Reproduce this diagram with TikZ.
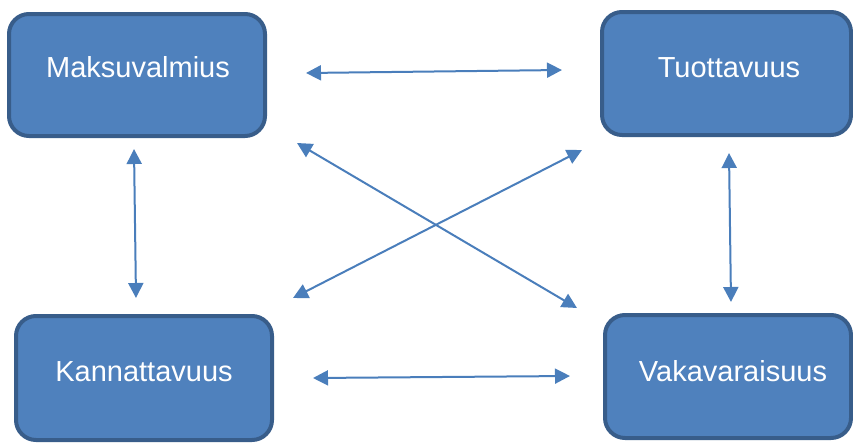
\documentclass[tikz,border=0pt]{standalone}
\usepackage{fontspec}
\setmainfont{Liberation Sans}
\usetikzlibrary{arrows.meta}
\definecolor{boxfill}{HTML}{4F81BD}
\definecolor{boxline}{HTML}{385D8A}
\definecolor{arrowcol}{HTML}{4A7EBB}
\tikzset{
  boxnode/.style={draw=boxline, fill=boxfill, line width=4pt, rounded corners=20pt, inner sep=0pt},
  labelnode/.style={anchor=base, text=white, font=\fontsize{29}{34}\selectfont, inner sep=0pt},
  link/.style={draw=arrowcol, line width=2pt, {Triangle[length=15pt,width=15pt]}-{Triangle[length=15pt,width=15pt]}}
}
\begin{document}
\begin{tikzpicture}[x=1pt,y=-1pt]
\useasboundingbox (0,0) rectangle (853,442);
\begin{scope}
\clip (0,0) rectangle (853,442);
\node[boxnode, minimum width=256pt, minimum height=122pt] (mv) at (137,75) {};
\node[boxnode, minimum width=249pt, minimum height=123pt] (tv) at (726.5,73.5) {};
\node[boxnode, minimum width=256pt, minimum height=124pt] (kv) at (144,378) {};
\node[boxnode, minimum width=246pt, minimum height=123pt] (vv) at (728,376.5) {};
\end{scope}
\node[labelnode] (mvt) at (138,77) {Maksuvalmius};
\node[labelnode] (tvt) at (729,77) {Tuottavuus};
\node[labelnode] (kvt) at (144,381) {Kannattavuus};
\node[labelnode] (vvt) at (733,381) {Vakavaraisuus};
% arrow end points
\coordinate (a1) at (306,73);
\coordinate (a2) at (562,70);
\coordinate (b1) at (134,149);
\coordinate (b2) at (136,298);
\coordinate (c1) at (729,153);
\coordinate (c2) at (731,302);
\coordinate (d1) at (313,378);
\coordinate (d2) at (570,376);
\coordinate (e1) at (297,143);
\coordinate (e2) at (577,308);
\coordinate (f1) at (582,150);
\coordinate (f2) at (293,298);
\draw[link] (a1) -- (a2);
\draw[link] (b1) -- (b2);
\draw[link] (c1) -- (c2);
\draw[link] (d1) -- (d2);
\draw[link] (e1) -- (e2);
\draw[link] (f1) -- (f2);
\end{tikzpicture}
\end{document}
